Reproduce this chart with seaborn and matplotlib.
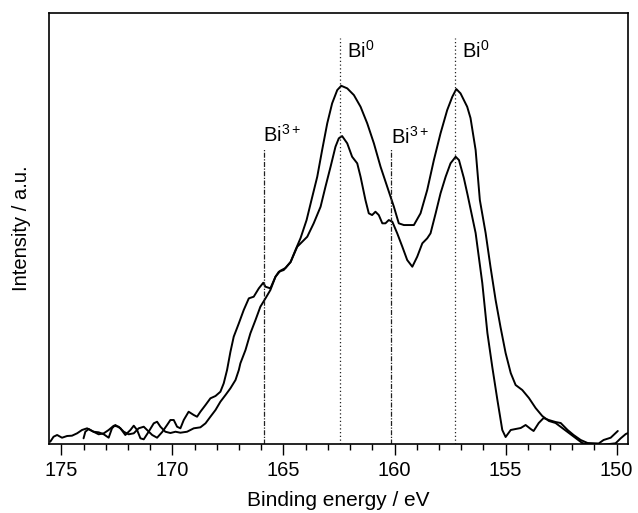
import pandas as pd
import numpy as np
import matplotlib
matplotlib.use('Agg')
import matplotlib.pyplot as plt
from matplotlib.ticker import MultipleLocator
import seaborn as sns

# curve 1 (higher peaks)
be_a = [175.50, 175.35, 175.19, 174.97, 174.74, 174.52, 174.29, 174.07, 173.84, 173.62,
        173.32, 173.09, 172.87, 172.64, 172.42, 172.19, 171.97, 171.74, 171.52, 171.29,
        171.14, 170.91, 170.69, 170.46, 170.24, 170.09, 169.94, 169.79, 169.64, 169.49,
        169.27, 169.04, 168.89, 168.74, 168.51, 168.29, 168.06, 167.84, 167.69, 167.54,
        167.39, 167.24, 167.01, 166.79, 166.56, 166.34, 166.11, 165.91, 165.81, 165.59,
        165.36, 165.21, 164.99, 164.68, 164.46, 164.23, 163.96, 163.74, 163.48, 163.26,
        163.03, 162.81, 162.58, 162.40, 162.13, 161.83, 161.53, 161.23, 160.93, 160.63,
        160.33, 160.03, 159.81, 159.58, 159.13, 158.83, 158.53, 158.23, 157.93, 157.63,
        157.40, 157.22, 157.03, 156.73, 156.58, 156.35, 156.16, 155.90, 155.68, 155.45,
        155.23, 155.00, 154.77, 154.55, 154.25, 153.95, 153.65, 153.35, 153.05, 152.75,
        152.45, 152.15, 151.85, 151.55, 151.32, 150.72, 150.05, 149.82, 149.59, 149.45]
int_a = [0.53, 1.69, 2.09, 1.46, 1.86, 1.93, 2.48, 3.25, 3.64, 3.02,
         2.25, 2.48, 3.25, 4.25, 4.01, 2.85, 2.25, 2.48, 3.64, 4.01,
         3.25, 2.09, 1.46, 2.78, 4.41, 5.57, 5.57, 4.01, 3.64, 5.57,
         7.49, 6.73, 6.33, 7.49, 9.05, 10.60, 11.14, 12.13, 14.08, 17.17,
         21.35, 24.90, 28.00, 31.09, 33.80, 34.18, 36.12, 37.42, 36.50, 36.12,
         38.82, 39.98, 40.37, 42.23, 45.01, 47.80, 51.97, 56.61, 62.02, 68.21,
         74.41, 79.05, 82.13, 83.13, 82.53, 80.97, 78.26, 74.41, 69.77, 64.34,
         59.70, 55.06, 51.21, 50.81, 50.81, 53.53, 58.93, 65.89, 72.09, 77.49,
         80.58, 82.37, 81.37, 78.26, 75.64, 68.21, 56.61, 48.96, 41.07, 33.41,
         27.15, 21.11, 16.47, 13.69, 12.53, 10.67, 8.35, 6.50, 5.34, 4.87,
         3.71, 2.55, 1.39, 0.23, -0.12, -0.23, 0.16, 1.32, 2.32, 2.62]

# curve 2 (lower peaks)
be_b = [174.00, 173.92, 173.77, 173.55, 173.32, 173.09, 172.87, 172.72, 172.57, 172.34,
        172.12, 171.89, 171.74, 171.59, 171.44, 171.29, 171.07, 170.84, 170.69, 170.54,
        170.32, 170.09, 169.86, 169.64, 169.34, 169.04, 168.74, 168.51, 168.29, 168.06,
        167.84, 167.61, 167.39, 167.16, 167.01, 166.94, 166.71, 166.49, 166.26, 166.04,
        165.81, 165.59, 165.36, 165.14, 164.91, 164.68, 164.38, 163.93, 163.64, 163.33,
        163.11, 162.88, 162.66, 162.51, 162.36, 162.13, 161.91, 161.68, 161.53, 161.31,
        161.16, 161.01, 160.86, 160.71, 160.55, 160.41, 160.26, 160.10, 159.88, 159.65,
        159.43, 159.20, 158.98, 158.75, 158.53, 158.38, 158.15, 157.93, 157.70, 157.48,
        157.25, 157.10, 156.88, 156.71, 156.35, 156.05, 155.82, 155.60, 155.37, 155.15,
        155.00, 154.77, 154.55, 154.32, 154.10, 153.87, 153.74, 153.51, 153.29, 153.06,
        152.75, 152.52, 152.21, 151.94, 151.62, 151.31, 150.81, 150.59, 150.27, 149.95]
int_b = [1.32, 2.85, 3.48, 2.85, 2.71, 2.25, 1.46, 3.64, 4.41, 3.64,
         2.09, 3.25, 4.25, 3.25, 1.32, 1.09, 2.85, 4.80, 5.17, 4.01,
         2.85, 2.55, 2.85, 2.62, 2.85, 3.64, 3.87, 4.80, 6.33, 7.89,
         9.81, 11.37, 12.92, 14.85, 17.17, 18.72, 21.81, 25.68, 28.77, 31.86,
         33.80, 35.73, 38.82, 40.21, 40.84, 42.23, 45.78, 48.10, 51.21, 55.06,
         59.70, 64.34, 68.98, 70.93, 71.46, 69.77, 66.66, 65.13, 62.02, 56.61,
         53.53, 53.13, 53.90, 53.13, 51.21, 51.21, 51.97, 51.58, 48.89, 45.78,
         42.69, 41.14, 43.46, 46.57, 47.73, 48.89, 53.53, 58.17, 62.02, 65.13,
         66.66, 65.89, 61.72, 57.77, 48.96, 37.35, 25.75, 17.87, 10.21, 3.25,
         1.62, 3.25, 3.48, 3.71, 4.41, 3.48, 3.02, 4.87, 6.03, 5.57,
         5.10, 4.87, 3.25, 2.09, 0.93, 0.23, 0.12, 0.93, 1.46, 3.02]

# reference lines and their labels
bi3_pos = [165.86, 160.18]
bi0_pos = [162.45, 157.27]
bi3_label_xy = [(165.9, 70.1), (160.15, 69.6)]
bi0_label_xy = [(162.13, 89.6), (156.95, 89.6)]

df = pd.concat([
    pd.DataFrame({'BE': be_a, 'I': int_a, 'curve': 'a'}),
    pd.DataFrame({'BE': be_b, 'I': int_b, 'curve': 'b'}),
])

sns.set_style('ticks')
plt.rcParams['font.family'] = ['Liberation Sans', 'DejaVu Sans']
plt.rcParams['mathtext.fontset'] = 'custom'
plt.rcParams['mathtext.rm'] = 'Liberation Sans'
plt.rcParams['text.color'] = 'black'
plt.rcParams['axes.labelcolor'] = 'black'
plt.rcParams['xtick.color'] = 'black'

fig = plt.figure(figsize=(6.38, 5.13), dpi=100)
ax = fig.add_axes([0.077, 0.1345, 0.907, 0.840])

sns.lineplot(data=df, x='BE', y='I', units='curve', estimator=None, sort=False,
             color='black', lw=1.4, ax=ax, legend=False)

ax.vlines(bi3_pos, 0, 68.7, colors='#222222', lw=0.9, linestyles=(0, (4, 1.2, 1, 1.2)))
ax.vlines(bi0_pos, 0, 94.2, colors='#222222', lw=0.9, linestyles=(0, (1, 2)))
for x, y in bi3_label_xy:
    ax.text(x, y, r'Bi$^{\mathrm{3+}}$', fontsize=14.5, ha='left', va='baseline')
for x, y in bi0_label_xy:
    ax.text(x, y, r'Bi$^{\mathrm{0}}$', fontsize=14.5, ha='left', va='baseline')

ax.set_xlim(175.55, 149.5)
ax.set_ylim(0, 100)
ax.set_xticks([175, 170, 165, 160, 155, 150])
ax.xaxis.set_minor_locator(MultipleLocator(1))
ax.tick_params(axis='x', which='major', direction='out', length=8, width=1, labelsize=14.5, pad=4)
ax.tick_params(axis='x', which='minor', direction='out', length=4.5, width=1)
ax.tick_params(axis='y', left=False, labelleft=False)
ax.set_yticks([])
for s in ax.spines.values():
    s.set_linewidth(1.2)
    s.set_color('black')

ax.set_xlabel('Binding energy / eV', fontsize=15, labelpad=8)
ax.set_ylabel('Intensity / a.u.', fontsize=14.5, labelpad=13)

fig.savefig('out.png', dpi=100)
